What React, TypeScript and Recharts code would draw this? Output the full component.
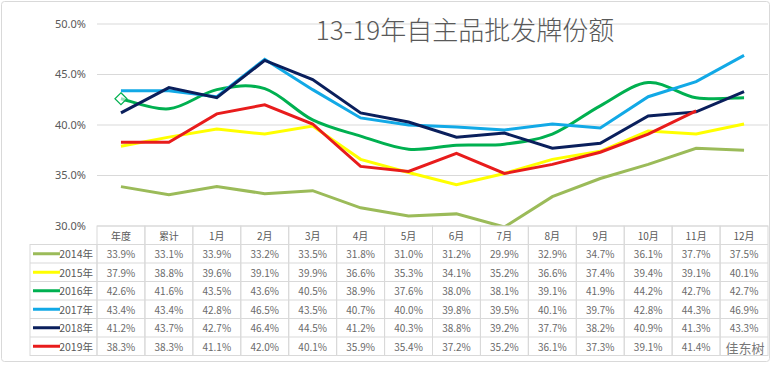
import React from 'react';
import { LineChart, Line, XAxis, YAxis, CartesianGrid } from 'recharts';

const categories = ['年度', '累计', '1月', '2月', '3月', '4月', '5月', '6月', '7月', '8月', '9月', '10月', '11月', '12月'];
const seriesNames = ['2014年', '2015年', '2016年', '2017年', '2018年', '2019年'];
const s2014 = [33.9, 33.1, 33.9, 33.2, 33.5, 31.8, 31.0, 31.2, 29.9, 32.9, 34.7, 36.1, 37.7, 37.5];
const s2015 = [37.9, 38.8, 39.6, 39.1, 39.9, 36.6, 35.3, 34.1, 35.2, 36.6, 37.4, 39.4, 39.1, 40.1];
const s2016 = [42.6, 41.6, 43.5, 43.6, 40.5, 38.9, 37.6, 38.0, 38.1, 39.1, 41.9, 44.2, 42.7, 42.7];
const s2017 = [43.4, 43.4, 42.8, 46.5, 43.5, 40.7, 40.0, 39.8, 39.5, 40.1, 39.7, 42.8, 44.3, 46.9];
const s2018 = [41.2, 43.7, 42.7, 46.4, 44.5, 41.2, 40.3, 38.8, 39.2, 37.7, 38.2, 40.9, 41.3, 43.3];
const s2019 = [38.3, 38.3, 41.1, 42.0, 40.1, 35.9, 35.4, 37.2, 35.2, 36.1, 37.3, 39.1, 41.4, null];
const seriesValues = [s2014, s2015, s2016, s2017, s2018, s2019];
const seriesKeys = ['s2014', 's2015', 's2016', 's2017', 's2018', 's2019'];
const seriesColors = ['#9bbb59', '#ffff00', '#00b050', '#12a9e6', '#0a1f5c', '#e81c1c'];
const smoothed = [false, false, true, false, false, false];
const yTicks = [30, 35, 40, 45, 50];
const title = '13-19年自主品批发牌份额';
const watermark = '佳东树';

const data = categories.map((c, i) => {
  const row: any = { cat: c };
  seriesKeys.forEach((k, j) => {
    row[k] = seriesValues[j][i];
  });
  return row;
});

const COL_W = 47.9;
const ROW_H = 18.5;
const LEGEND_W = 67;
const GRID = '#d9d9d9';
const TEXT = '#595959';
const CJK = '"Noto Sans CJK SC", "Noto Sans", sans-serif';

// Catmull-Rom style smoothing (similar to Excel smoothed lines)
function smoothCurve(context: any) {
  let pts: number[][] = [];
  return {
    areaStart() {},
    areaEnd() {},
    lineStart() {
      pts = [];
    },
    lineEnd() {
      const n = pts.length;
      if (!n) return;
      context.moveTo(pts[0][0], pts[0][1]);
      if (n === 1) return;
      for (let i = 0; i < n - 1; i++) {
        const p0 = pts[Math.max(i - 1, 0)];
        const p1 = pts[i];
        const p2 = pts[i + 1];
        const p3 = pts[Math.min(i + 2, n - 1)];
        const c1x = p1[0] + (p2[0] - p0[0]) / 6;
        const c1y = p1[1] + (p2[1] - p0[1]) / 6;
        const c2x = p2[0] - (p3[0] - p1[0]) / 6;
        const c2y = p2[1] - (p3[1] - p1[1]) / 6;
        context.bezierCurveTo(c1x, c1y, c2x, c2y, p2[0], p2[1]);
      }
    },
    point(x: number, y: number) {
      pts.push([+x, +y]);
    },
  };
}

function TableTick(props: any) {
  const { x, y, index } = props;
  const left = x - COL_W / 2;
  const rows = seriesNames.length;
  const els: any[] = [];
  els.push(
    <rect key="box" x={left} y={y} width={COL_W} height={ROW_H * (rows + 1)} fill="none" stroke={GRID} strokeWidth={1} />
  );
  for (let r = 1; r <= rows; r++) {
    els.push(<line key={'l' + r} x1={left} x2={left + COL_W} y1={y + ROW_H * r} y2={y + ROW_H * r} stroke={GRID} strokeWidth={1} />);
  }
  els.push(
    <text key="h" x={x} y={y + ROW_H / 2} textAnchor="middle" dominantBaseline="central" fontSize={10} fill={TEXT} fontFamily={CJK}>
      {categories[index]}
    </text>
  );
  seriesValues.forEach((vals, r) => {
    const v = vals[index];
    if (v === null || v === undefined) return;
    els.push(
      <text key={'v' + r} x={x} y={y + ROW_H * (r + 1.5)} textAnchor="middle" dominantBaseline="central" fontSize={10} fill="#6a6a6a" fontFamily={CJK}>
        {v.toFixed(1) + '%'}
      </text>
    );
  });
  if (index === 0) {
    const lx = left - LEGEND_W;
    els.push(
      <rect key="lbox" x={lx} y={y + ROW_H} width={LEGEND_W} height={ROW_H * rows} fill="none" stroke={GRID} strokeWidth={1} />
    );
    seriesNames.forEach((name, r) => {
      const cy = y + ROW_H * (r + 1.5);
      if (r > 0) {
        els.push(<line key={'ll' + r} x1={lx} x2={left} y1={y + ROW_H * (r + 1)} y2={y + ROW_H * (r + 1)} stroke={GRID} strokeWidth={1} />);
      }
      els.push(<line key={'sw' + r} x1={lx + 3} x2={lx + 30} y1={cy} y2={cy} stroke={seriesColors[r]} strokeWidth={3} />);
      els.push(
        <text key={'ln' + r} x={left - 4} y={cy} textAnchor="end" dominantBaseline="central" fontSize={10.5} fill={TEXT} fontFamily={CJK}>
          {name}
        </text>
      );
    });
  }
  return <g>{els}</g>;
}

function DiamondDot(props: any) {
  const { cx, cy, index } = props;
  if (index !== 0 || cx == null || cy == null) return <g key={'d' + index} />;
  const s = 6;
  return (
    <path
      key={'d' + index}
      d={`M${cx},${cy - s}L${cx + s},${cy}L${cx},${cy + s}L${cx - s},${cy}Z`}
      fill="#ffffff"
      fillOpacity={0.6}
      stroke="#00b050"
      strokeWidth={1.2}
    />
  );
}

export default function App() {
  return (
    <div style={{ position: 'relative', width: 773, height: 365, background: '#fff' }}>
      <style>{'body{margin:0;background:#fff}'}</style>
      <LineChart width={773} height={365} data={data} margin={{ top: 24, right: 5, left: 0, bottom: 0 }}>
        <CartesianGrid vertical={false} stroke={GRID} strokeWidth={1} />
        <XAxis
          dataKey="cat"
          height={139}
          interval={0}
          axisLine={false}
          tickLine={false}
          tickSize={0}
          tickMargin={0}
          padding={{ left: COL_W / 2, right: COL_W / 2 }}
          tick={<TableTick />}
        />
        <YAxis
          width={97}
          domain={[30, 50]}
          ticks={yTicks}
          allowDataOverflow
          axisLine={false}
          tickLine={false}
          tickSize={0}
          tickMargin={11}
          tickFormatter={(v: number) => v.toFixed(1) + '%'}
          tick={{ fontSize: 11, fill: TEXT, fontFamily: '"Noto Sans", sans-serif' }}
        />
        {seriesKeys.map((k, j) => (
          <Line
            key={k}
            dataKey={k}
            name={seriesNames[j]}
            type={smoothed[j] ? (smoothCurve as any) : 'linear'}
            stroke={seriesColors[j]}
            strokeWidth={3}
            dot={j === 2 ? <DiamondDot /> : false}
            activeDot={false}
            isAnimationActive={false}
          />
        ))}
      </LineChart>
      <svg width={773} height={365} style={{ position: 'absolute', left: 0, top: 0, pointerEvents: 'none' }}>
        <rect x={1.5} y={1.5} width={768} height={360} rx={3} fill="none" stroke={GRID} strokeWidth={1} />
        <text x={465} y={40} textAnchor="middle" fontSize={26} fontWeight={300} fill={TEXT} fontFamily={CJK}>
          {title}
        </text>
        <text
          x={745}
          y={347}
          textAnchor="middle"
          dominantBaseline="central"
          fontSize={13}
          fill="#777"
          fontFamily={CJK}
        >
          {watermark}
        </text>
      </svg>
    </div>
  );
}
